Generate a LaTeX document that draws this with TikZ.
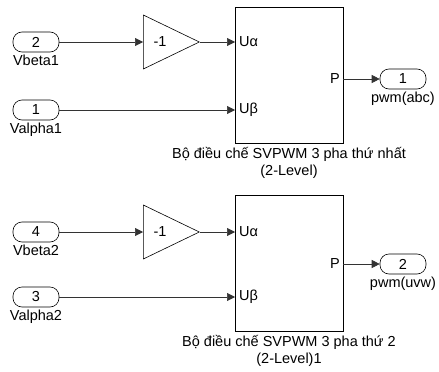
\documentclass[tikz,border=0pt]{standalone}
\usepackage{fontspec}
\setmainfont{Liberation Sans}
\usetikzlibrary{arrows.meta,positioning,shapes.geometric}
\tikzset{
  sig/.style={draw=black!80,line width=0.6pt},
  port/.style={draw,line width=0.6pt,rounded corners=9pt,minimum width=46pt,minimum height=20pt,inner sep=0pt,font=\fontsize{14.5}{14.5}\selectfont},
  gain/.style={draw,line width=0.6pt,isosceles triangle,isosceles triangle stretches,minimum width=54pt,minimum height=56pt,inner sep=0pt,anchor=west},
  subsys/.style={draw,line width=0.6pt,minimum width=108pt,minimum height=136pt,inner sep=0pt},
  txt/.style={font=\fontsize{14.5}{17}\selectfont,inner sep=1pt},
}
\begin{document}
\begin{tikzpicture}[x=1pt,y=-1pt,>={Triangle[length=8pt,width=8pt]}]
  \useasboundingbox (0,0) rectangle (439,372);
  % upper modulator
  \node[port] (in2) at (36,42) {2};
  \node[txt,below=1pt of in2] (lb2) {Vbeta1};
  \node[port] (in1) at (36,110) {1};
  \node[txt,below=1pt of in1] (lb1) {Valpha1};
  \node[gain] (g1) at (143,42) {};
  \node[txt] at ([xshift=17pt]g1.west) {-1};
  \node[subsys] (sv1) at (289,75) {};
  \coordinate (ua1) at (235,42);
  \coordinate (ub1) at (235,110);
  \coordinate (p1) at (343,79);
  \node[txt,right=3pt] at (ua1) {Uα};
  \node[txt,right=3pt] at (ub1) {Uβ};
  \node[txt,left=2pt] at (p1) {P};
  \node[port] (out1) at (403,79) {1};
  \node[txt,below=1pt of out1] (lo1) {pwm(abc)};
  \node[txt,align=center,below=3pt of sv1] (t1) {Bộ điều chế SVPWM 3 pha thứ nhất\\(2-Level)};
  \draw[sig,->] (in2.east) -- (g1.west);
  \draw[sig,->] (g1.east) -- (ua1);
  \draw[sig,->] (in1.east) -- (ub1);
  \draw[sig,->] (p1) -- (out1.west);
  % lower modulator
  \node[port] (in4) at (36,232) {4};
  \node[txt,below=1pt of in4] (lb4) {Vbeta2};
  \node[port] (in3) at (36,297) {3};
  \node[txt,below=1pt of in3] (lb3) {Valpha2};
  \node[gain] (g2) at (143,232) {};
  \node[txt] at ([xshift=17pt]g2.west) {-1};
  \node[subsys] (sv2) at (289,263) {};
  \coordinate (ua2) at (235,232);
  \coordinate (ub2) at (235,297);
  \coordinate (p2) at (343,264);
  \node[txt,right=3pt] at (ua2) {Uα};
  \node[txt,right=3pt] at (ub2) {Uβ};
  \node[txt,left=2pt] at (p2) {P};
  \node[port] (out2) at (403,264) {2};
  \node[txt,below=1pt of out2] (lo2) {pwm(uvw)};
  \node[txt,align=center,below=3pt of sv2] (t2) {Bộ điều chế SVPWM 3 pha thứ 2\\(2-Level)1};
  \draw[sig,->] (in4.east) -- (g2.west);
  \draw[sig,->] (g2.east) -- (ua2);
  \draw[sig,->] (in3.east) -- (ub2);
  \draw[sig,->] (p2) -- (out2.west);
\end{tikzpicture}
\end{document}
